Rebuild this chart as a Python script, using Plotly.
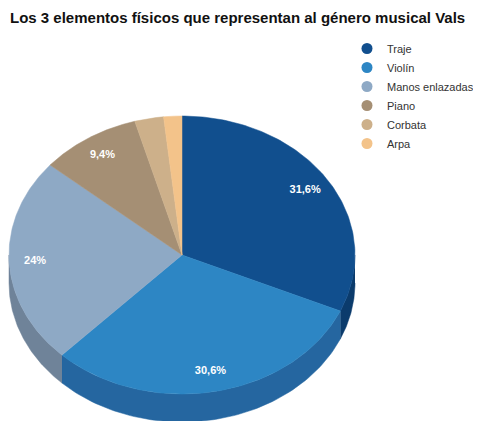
import numpy as np
import plotly.graph_objects as go

title = "Los 3 elementos físicos que representan al género musical Vals"
categories = ["Traje", "Violín", "Manos enlazadas", "Piano", "Corbata", "Arpa"]
values = [31.6, 30.6, 24, 9.4, 2.7, 1.7]
show_label = [True, True, True, True, False, False]

top_colors = ["#114f8e", "#2d86c4", "#8ea9c5", "#a58f74", "#cdb08a", "#f3c38a"]
side_colors = ["#0b3b6c", "#2566a0", "#6f8399", "#7f6f5a", "#a08968", "#c29a6b"]

# the page body has an 8px margin; figure is sized so page = 481x421
W, H, PAD = 473, 413, 8

# pie geometry in screen pixels
CX, CY = 182, 255
RX, RY = 173, 139
DEPTH = 28
LABEL_K = 0.85


def ellipse(angles, k=1.0, dy=0.0):
    a = np.radians(angles)
    return CX + k * RX * np.sin(a), CY - k * RY * np.cos(a) + dy


total = sum(values)
bounds = np.concatenate([[0], np.cumsum(values)]) / total * 360

fig = go.Figure()

# side walls (only the front half is visible)
for i, name in enumerate(categories):
    a0, a1 = bounds[i], bounds[i + 1]
    s0, s1 = max(a0, 90), min(a1, 270)
    if s0 >= s1:
        continue
    arc = np.linspace(s0, s1, 80)
    xt, yt = ellipse(arc)
    xb, yb = ellipse(arc[::-1], dy=DEPTH)
    fig.add_trace(go.Scatter(
        x=np.concatenate([xt, xb]), y=np.concatenate([yt, yb]),
        fill="toself", mode="lines", fillcolor=side_colors[i],
        line=dict(color=side_colors[i], width=0.5),
        showlegend=False, hoverinfo="skip", legendgroup=name))

# top faces
for i, name in enumerate(categories):
    arc = np.linspace(bounds[i], bounds[i + 1], 120)
    xs, ys = ellipse(arc)
    fig.add_trace(go.Scatter(
        x=np.concatenate([[CX], xs, [CX]]), y=np.concatenate([[CY], ys, [CY]]),
        fill="toself", mode="lines", fillcolor=top_colors[i],
        line=dict(color=top_colors[i], width=0.5),
        showlegend=False, legendgroup=name, name=name,
        hoverinfo="text", text=f"{name}: {values[i]}%"))

# data labels
lx, ly, lt = [], [], []
for i, v in enumerate(values):
    if not show_label[i]:
        continue
    mid = (bounds[i] + bounds[i + 1]) / 2
    x, y = ellipse(mid, k=LABEL_K)
    lx.append(x)
    ly.append(y)
    lt.append(f"{v:g}".replace(".", ",") + "%")
fig.add_trace(go.Scatter(
    x=lx, y=ly, text=lt, mode="text", showlegend=False, hoverinfo="skip",
    textfont=dict(family="Liberation Sans", size=11, color="white", weight="bold")))

# legend entries
for i, name in enumerate(categories):
    fig.add_trace(go.Scatter(
        x=[None], y=[None], mode="markers", name=name, legendgroup=name,
        marker=dict(size=11, color=top_colors[i], symbol="circle")))

fig.update_layout(
    width=W, height=H,
    margin=dict(l=0, r=0, t=0, b=0, autoexpand=False),
    paper_bgcolor="white", plot_bgcolor="white",
    xaxis=dict(range=[PAD, PAD + W], visible=False, fixedrange=True),
    yaxis=dict(range=[PAD + H, PAD], visible=False, fixedrange=True),
    title=dict(text=f"<b>{title}</b>", x=2 / W, xanchor="left", xref="container",
               y=1 - 10 / H, yanchor="middle", yref="container",
               font=dict(family="Liberation Sans", size=15, color="#111")),
    legend=dict(x=339 / W, y=1 - 26 / H, xanchor="left", yanchor="top",
                xref="container", yref="container",
                font=dict(family="Liberation Sans", size=11, color="#333"),
                bgcolor="rgba(0,0,0,0)", tracegroupgap=0),
    showlegend=True,
)

fig.write_html("out.html")
